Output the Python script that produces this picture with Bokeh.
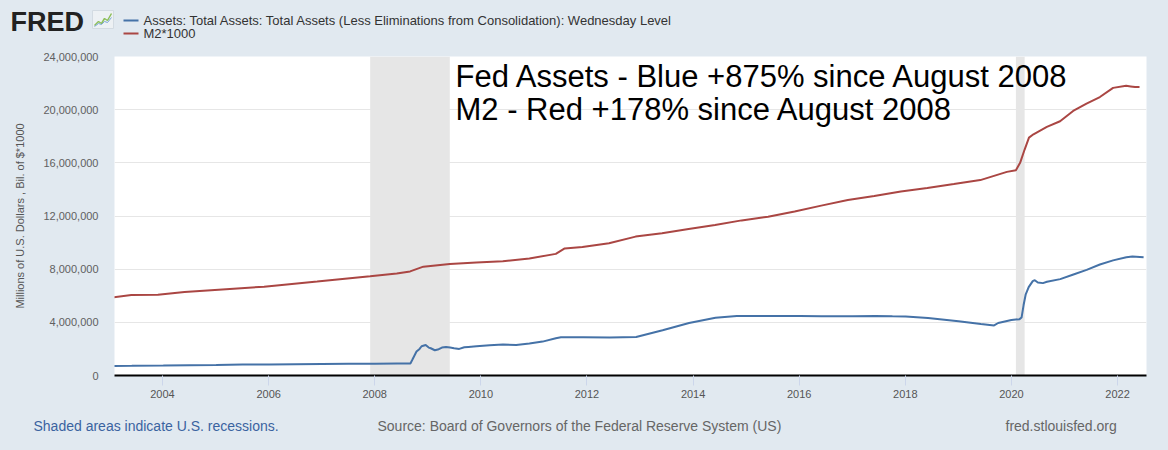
import pandas as pd
from bokeh.plotting import figure
from bokeh.layouts import column
from bokeh.models import Label, BoxAnnotation, NumeralTickFormatter, DatetimeTickFormatter, Range1d, FixedTicker
from bokeh.embed import file_html
from bokeh.resources import INLINE

# ---------------- data ----------------
assets_dates = ["2002-12-18", "2003-06-04", "2004-01-07", "2004-07-07", "2005-01-05", "2005-07-06",
                "2006-01-04", "2006-07-05", "2007-01-03", "2007-07-04", "2008-01-02", "2008-06-04",
                "2008-09-03", "2008-09-17", "2008-10-01", "2008-10-15", "2008-11-05", "2008-11-19",
                "2008-12-17", "2009-01-07", "2009-01-21", "2009-02-18", "2009-03-11", "2009-04-08",
                "2009-05-06", "2009-06-03", "2009-07-01", "2009-08-05", "2009-09-09", "2009-10-07",
                "2009-12-02", "2010-03-03", "2010-06-02", "2010-09-01", "2010-12-01", "2011-03-02",
                "2011-06-01", "2011-07-06", "2011-12-07", "2012-06-06", "2012-12-05", "2013-06-05",
                "2013-12-04", "2014-06-04", "2014-10-29", "2015-06-03", "2016-01-06", "2016-06-01",
                "2017-01-04", "2017-06-07", "2017-10-04", "2018-01-03", "2018-06-06", "2019-01-02",
                "2019-06-05", "2019-09-04", "2019-10-02", "2020-01-01", "2020-02-26", "2020-03-11",
                "2020-03-25", "2020-04-08", "2020-04-29", "2020-05-27", "2020-06-10", "2020-07-01",
                "2020-08-05", "2020-09-02", "2020-12-02", "2021-03-03", "2021-06-02", "2021-09-01",
                "2021-12-01", "2022-03-02", "2022-04-13", "2022-06-29"]
assets_values = [720000, 730000, 750000, 770000, 790000, 820000,
                 830000, 850000, 870000, 880000, 890000, 900000,
                 905000, 1200000, 1500000, 1800000, 2000000, 2200000,
                 2300000, 2100000, 2050000, 1900000, 1950000, 2100000,
                 2150000, 2100000, 2050000, 2000000, 2120000, 2150000,
                 2200000, 2280000, 2330000, 2300000, 2400000, 2550000,
                 2800000, 2870000, 2880000, 2850000, 2900000, 3400000,
                 3950000, 4350000, 4480000, 4480000, 4480000, 4460000,
                 4460000, 4470000, 4450000, 4440000, 4330000, 4080000,
                 3880000, 3770000, 3950000, 4170000, 4240000, 4360000,
                 5300000, 6080000, 6650000, 7100000, 7170000, 7000000,
                 6950000, 7050000, 7250000, 7600000, 7950000, 8350000,
                 8660000, 8900000, 8960000, 8900000]

m2_dates = ["2002-12-01", "2003-06-01", "2003-12-01", "2004-06-01", "2004-12-01", "2005-12-01",
            "2006-12-01", "2007-12-01", "2008-06-01", "2008-09-01", "2008-12-01", "2009-06-01",
            "2009-12-01", "2010-06-01", "2010-12-01", "2011-06-01", "2011-08-01", "2011-12-01",
            "2012-06-01", "2012-12-01", "2013-06-01", "2013-12-01", "2014-06-01", "2014-12-01",
            "2015-06-01", "2015-12-01", "2016-06-01", "2016-12-01", "2017-06-01", "2017-12-01",
            "2018-06-01", "2018-12-01", "2019-06-01", "2019-12-01", "2020-02-01", "2020-03-01",
            "2020-04-01", "2020-05-01", "2020-06-01", "2020-09-01", "2020-12-01", "2021-03-01",
            "2021-06-01", "2021-09-01", "2021-12-01", "2022-03-01", "2022-04-01", "2022-05-01",
            "2022-06-01"]
m2_values = [5800000, 6050000, 6070000, 6280000, 6420000, 6680000,
             7070000, 7470000, 7680000, 7830000, 8190000, 8390000,
             8500000, 8600000, 8800000, 9150000, 9560000, 9660000,
             9950000, 10450000, 10700000, 11020000, 11330000, 11670000,
             11950000, 12340000, 12780000, 13200000, 13500000, 13850000,
             14100000, 14400000, 14700000, 15320000, 15450000, 16000000,
             17000000, 17900000, 18150000, 18700000, 19130000, 19900000,
             20450000, 20950000, 21640000, 21800000, 21750000, 21700000,
             21700000]

recession_starts = ["2007-12-01", "2020-02-01"]
recession_ends = ["2009-06-01", "2020-04-01"]

y_ticks = [0, 4000000, 8000000, 12000000, 16000000, 20000000, 24000000]
x_tick_years = [2004, 2006, 2008, 2010, 2012, 2014, 2016, 2018, 2020, 2022]

legend_labels = ["Assets: Total Assets: Total Assets (Less Eliminations from Consolidation): Wednesday Level",
                 "M2*1000"]
annotation_lines = ["Fed Assets - Blue +875% since August 2008",
                    "M2 - Red +178% since August 2008"]
footer_texts = ["Shaded areas indicate U.S. recessions.",
                "Source: Board of Governors of the Federal Reserve System (US)",
                "fred.stlouisfed.org"]

BG = "#e1e9f0"
BLUE = "#4572a7"
RED = "#aa4643"
FONT = "Liberation Sans"
W = 1168


def no_align(f):
    try:
        f.frame_align = False
    except Exception:
        pass


def blank(height):
    f = figure(width=W, height=height, x_range=Range1d(0, W), y_range=Range1d(0, height),
               x_axis_location=None, y_axis_location=None,
               output_backend="svg", toolbar_location=None,
               min_border=0, min_border_left=0, min_border_right=0, min_border_top=0, min_border_bottom=0)
    f.grid.grid_line_color = None
    f.outline_line_color = None
    f.background_fill_color = BG
    f.border_fill_color = BG
    no_align(f)
    return f


def lab(fig, text, x, y, size, color, style="normal", units="data"):
    fig.add_layout(Label(x=x, y=y, x_units=units, y_units=units, text=text,
                         text_font=FONT, text_font_size=size, text_color=color,
                         text_font_style=style, text_baseline="middle", text_align="left"))


# ---------------- header ----------------
HEADER_H = 48
header = blank(HEADER_H)
lab(header, "FRED", 10, 27, "27px", "#222222", style="bold")
# small logo icon next to "FRED"
header.quad(left=[92], right=[113], bottom=[20], top=[38], fill_color="#edf1f4",
            line_color="#d3dbe2", line_width=1)
header.line(x=[94, 98, 101, 104, 107, 111], y=[23, 27, 25, 30, 28, 35], line_color="#8dbf5a", line_width=1.5)
header.line(x=[94, 98, 101, 104, 107, 111], y=[22, 25, 24, 27, 26, 31], line_color="#7aa6d6", line_width=1)

legend_colors = [BLUE, RED]
legend_y = [28, 15]
header.segment(x0=[123, 123], x1=[138, 138], y0=legend_y, y1=legend_y,
               line_color=legend_colors, line_width=2)
for t, yy in zip(legend_labels, legend_y):
    lab(header, t, 143, yy, "13px", "#333333")

# ---------------- main chart ----------------
p = figure(width=W, height=359, x_axis_type="datetime",
           output_backend="svg", toolbar_location=None,
           x_range=Range1d(pd.Timestamp("2003-02-05"), pd.Timestamp("2022-07-19")),
           y_range=Range1d(0, 24000000),
           min_border_left=114, min_border_right=22, min_border_top=8, min_border_bottom=32)
p.background_fill_color = "white"
p.border_fill_color = BG
p.outline_line_color = None
no_align(p)

for s, e in zip(recession_starts, recession_ends):
    p.add_layout(BoxAnnotation(left=pd.Timestamp(s), right=pd.Timestamp(e),
                               fill_color="#e6e6e6", fill_alpha=1.0, line_color=None,
                               level="underlay"))

p.line(pd.to_datetime(m2_dates), m2_values, line_color=RED, line_width=2)
p.line(pd.to_datetime(assets_dates), assets_values, line_color=BLUE, line_width=2)

p.xgrid.grid_line_color = None
p.ygrid.grid_line_color = "#e6e6e6"
p.ygrid.ticker = FixedTicker(ticks=y_ticks)

p.yaxis.ticker = FixedTicker(ticks=y_ticks)
p.yaxis.formatter = NumeralTickFormatter(format="0,0")
p.yaxis.axis_line_color = None
p.yaxis.major_tick_line_color = None
p.yaxis.minor_tick_line_color = None
p.yaxis.major_label_standoff = 10
p.yaxis.major_label_text_font = FONT
p.yaxis.major_label_text_font_size = "11px"
p.yaxis.major_label_text_color = "#606060"
p.yaxis.axis_label = "Millions of U.S. Dollars , Bil. of $*1000"
p.yaxis.axis_label_text_font = FONT
p.yaxis.axis_label_text_font_size = "11px"
p.yaxis.axis_label_text_font_style = "normal"
p.yaxis.axis_label_text_color = "#555555"
p.yaxis.axis_label_standoff = 14

x_ticks_ms = [pd.Timestamp(f"{y}-01-01").value / 1e6 for y in x_tick_years]
p.xaxis.ticker = FixedTicker(ticks=x_ticks_ms)
p.xaxis.formatter = DatetimeTickFormatter(years="%Y", months="%Y", days="%Y")
p.xaxis.axis_line_color = "black"
p.xaxis.axis_line_width = 2
p.xaxis.major_tick_line_color = "#ccd6eb"
p.xaxis.major_tick_in = 0
p.xaxis.major_tick_out = 10
p.xaxis.minor_tick_line_color = None
p.xaxis.major_label_standoff = 4
p.xaxis.major_label_text_font = FONT
p.xaxis.major_label_text_font_size = "11px"
p.xaxis.major_label_text_color = "#555555"

# annotation text (screen units, origin at frame bottom-left)
lab(p, annotation_lines[0], 341, 299, "31px", "black", units="screen")
lab(p, annotation_lines[1], 341, 266, "31px", "black", units="screen")

# ---------------- footer ----------------
FOOTER_H = 43
footer = blank(FOOTER_H)
footer_x = [33, 377, 1005]
footer_colors = ["#3a63a0", "#666666", "#666666"]
for t, xx, c in zip(footer_texts, footer_x, footer_colors):
    lab(footer, t, xx, 25, "14px", c)

layout = column(header, p, footer, spacing=0)

html = file_html(layout, INLINE)
html = html.replace("<head>", "<head><style>html,body{background:#e1e9f0;}</style>", 1)
open("out.html", "w").write(html)
